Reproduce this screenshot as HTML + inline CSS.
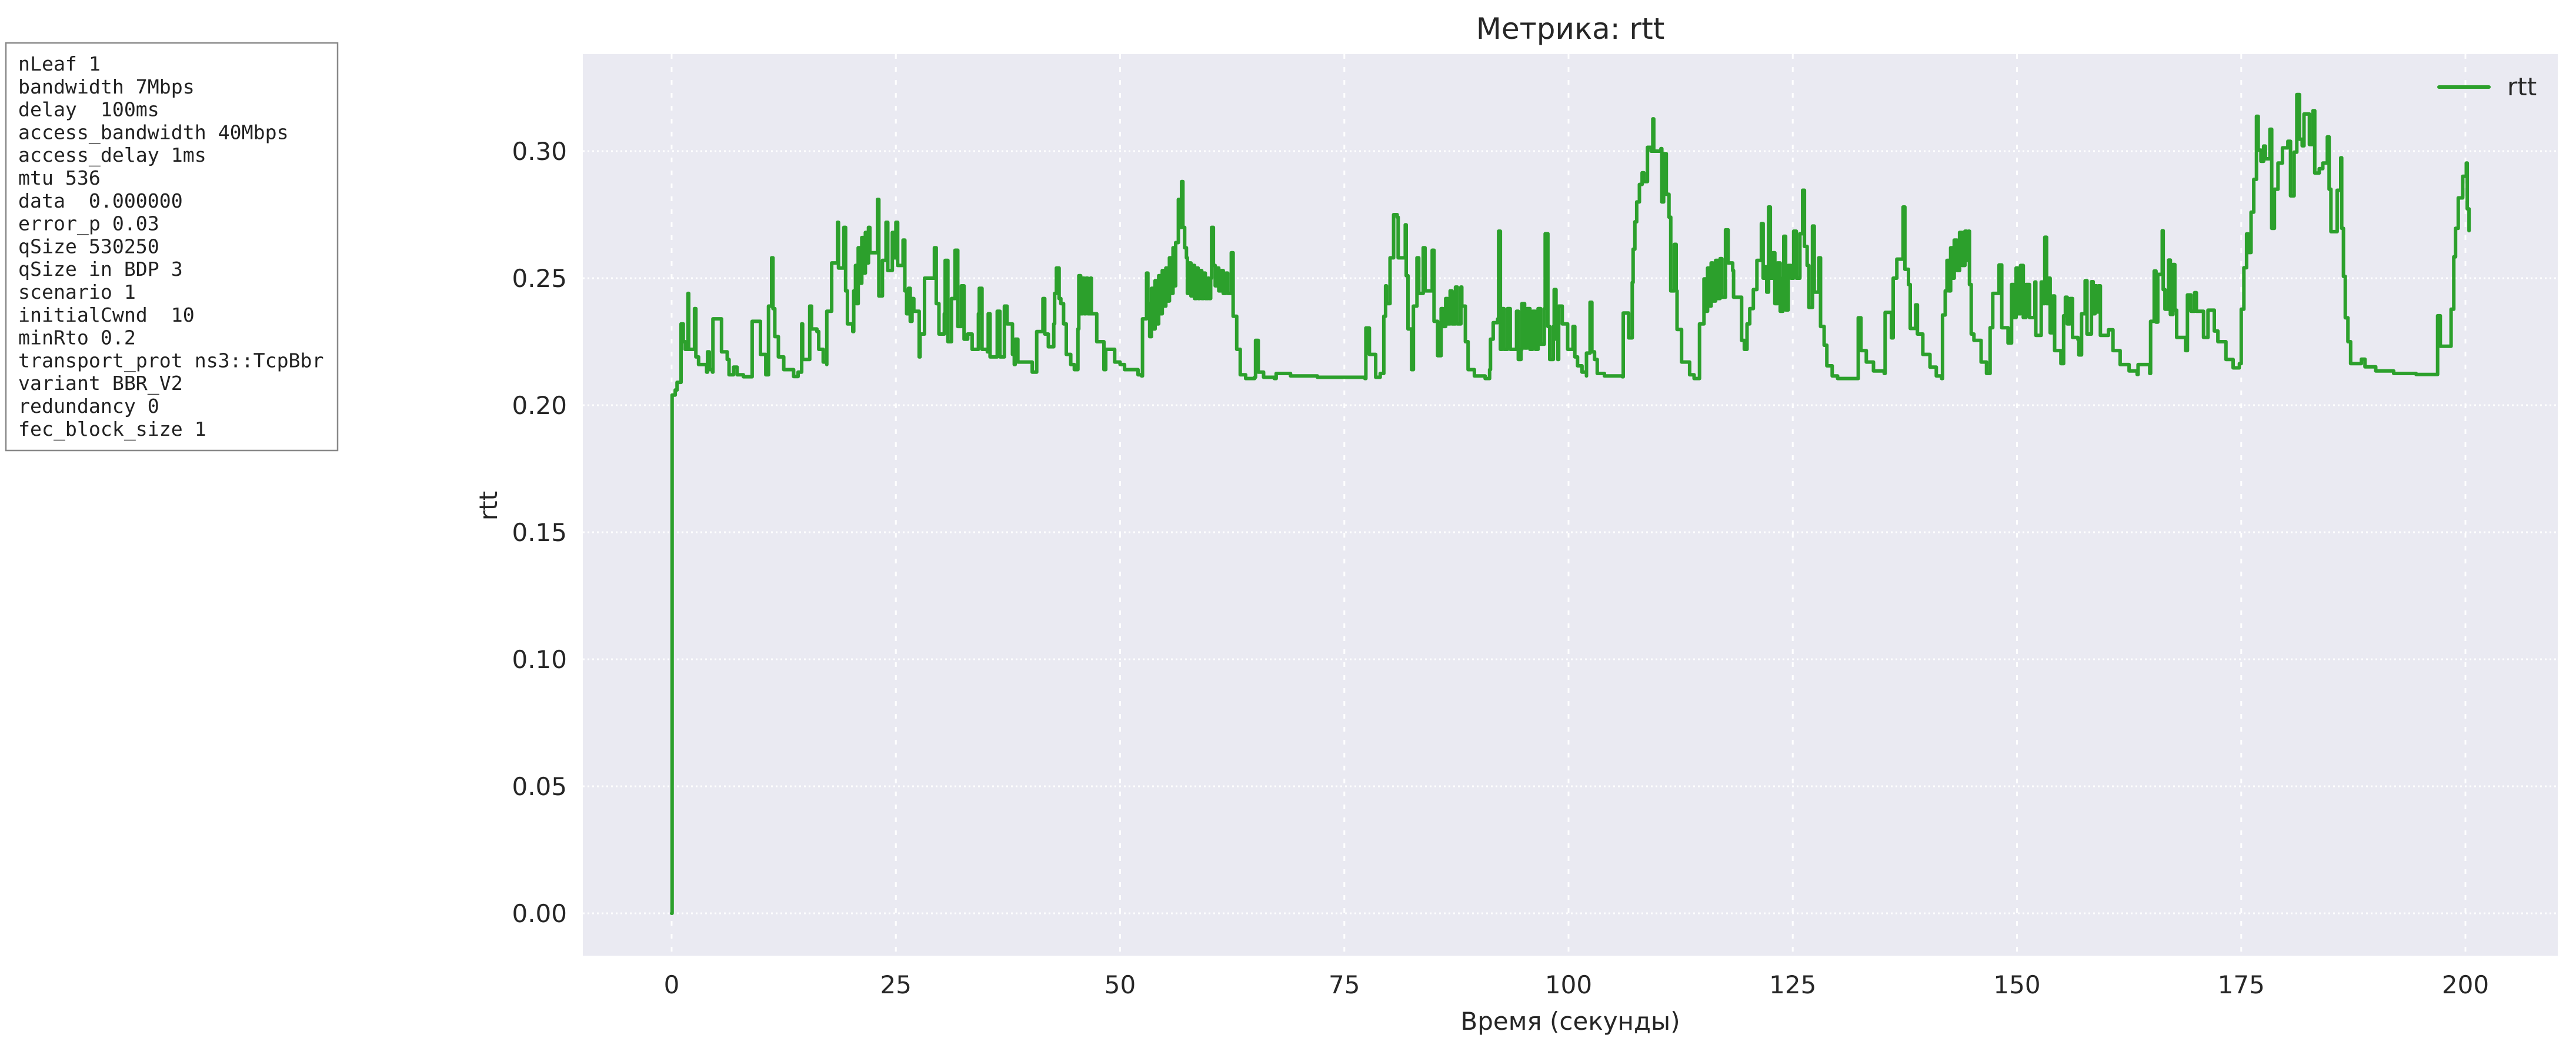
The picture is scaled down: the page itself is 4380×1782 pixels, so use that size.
<!DOCTYPE html>
<html><head><meta charset="utf-8"><style>
html,body{margin:0;padding:0;background:#fff;}
svg{display:block;}
text{font-family:"DejaVu Sans","Liberation Sans",sans-serif;fill:#262626;}
.mono{font-family:"DejaVu Sans Mono","Liberation Mono",monospace;font-size:33.2px;fill:#222;}
</style></head><body>
<svg id="chart" width="4380" height="1782" viewBox="0 0 4380 1782">
  <rect x="0" y="0" width="4380" height="1782" fill="#fff"/>
  <g>
    <rect x="10" y="73" width="564" height="693" fill="#fff" stroke="#888" stroke-width="2.5"/>
    <text class="mono" x="31" y="120">
      <tspan x="31" dy="0">nLeaf 1</tspan>
      <tspan x="31" dy="38.8">bandwidth 7Mbps</tspan>
      <tspan x="31" dy="38.8" xml:space="preserve">delay  100ms</tspan>
      <tspan x="31" dy="38.8">access_bandwidth 40Mbps</tspan>
      <tspan x="31" dy="38.8">access_delay 1ms</tspan>
      <tspan x="31" dy="38.8">mtu 536</tspan>
      <tspan x="31" dy="38.8" xml:space="preserve">data  0.000000</tspan>
      <tspan x="31" dy="38.8">error_p 0.03</tspan>
      <tspan x="31" dy="38.8">qSize 530250</tspan>
      <tspan x="31" dy="38.8">qSize in BDP 3</tspan>
      <tspan x="31" dy="38.8">scenario 1</tspan>
      <tspan x="31" dy="38.8" xml:space="preserve">initialCwnd  10</tspan>
      <tspan x="31" dy="38.8">minRto 0.2</tspan>
      <tspan x="31" dy="38.8">transport_prot ns3::TcpBbr</tspan>
      <tspan x="31" dy="38.8">variant BBR_V2</tspan>
      <tspan x="31" dy="38.8">redundancy 0</tspan>
      <tspan x="31" dy="38.8">fec_block_size 1</tspan>
    </text>
  </g>
  <rect x="991" y="92" width="3358" height="1533" fill="#eaeaf2"/>
  <g id="grid"></g>
  <g id="ticks"></g>
  <g id="series"></g>
  <text x="2670" y="66" font-size="50" text-anchor="middle">Метрика: rtt</text>
  <text x="2670" y="1751" font-size="42" text-anchor="middle">Время (секунды)</text>
  <text x="0" y="0" font-size="42" text-anchor="middle" transform="translate(845,860) rotate(-90)">rtt</text>
  <g>
    <line x1="4147" y1="148" x2="4232" y2="148" stroke="#2ca02c" stroke-width="6" stroke-linecap="round"/>
    <text x="4263" y="162" font-size="42">rtt</text>
  </g>
</svg>
<script>
const xTicks = [0,25,50,75,100,125,150,175,200];
const yTicks = [0.00,0.05,0.10,0.15,0.20,0.25,0.30];
const yTickLabels = ["0.00","0.05","0.10","0.15","0.20","0.25","0.30"];
const times = [0,0.05,0.4,0.6,1.05,1.05,1.3,1.5,1.8,1.82,1.9,2.4,2.55,2.7,3.0,3.5,3.9,4.0,4.2,4.56,4.6,5.4,5.56,6.2,6.4,6.8,6.9,7.3,8,8.95,8.98,9.8,9.9,10.5,10.8,10.8,11.1,11.15,11.3,11.5,11.9,12.5,13.6,14.1,14.1,14.4,14.5,14.6,15.3,15.4,15.6,16.2,16.4,16.9,17.3,17.3,17.8,17.84,18.4,18.5,18.6,19.1,19.2,19.4,19.6,20.2,20.3,20.5,20.6,20.8,21.0,21.2,21.4,21.6,21.8,21.95,22.1,22.9,22.95,23.1,23.3,23.5,23.9,24.1,24.5,24.6,24.8,25.0,25.2,25.7,25.8,26.0,26.2,26.4,26.6,26.8,27.0,27.4,27.6,27.7,28.2,28.2,29.2,29.3,29.5,29.8,30.4,30.5,30.8,31.2,31.6,31.9,32.3,32.6,33.0,33.5,34.2,34.3,34.6,35.2,35.3,35.5,36.2,36.3,36.6,37.0,37.1,37.4,38.0,38.2,38.3,38.6,39.2,40.2,40.6,40.7,41.3,41.4,41.6,42.0,42.6,42.7,42.9,43.2,43.4,43.7,44.0,44.5,44.9,45.3,45.4,45.6,45.8,46.0,46.2,46.4,46.7,46.8,47.3,47.4,48.0,48.2,48.4,49.0,49.4,50.0,50.5,51.4,52.0,52.4,52.5,52.9,52.95,53.1,53.3,53.5,53.7,53.9,54.1,54.3,54.5,54.7,54.9,55.1,55.3,55.5,55.7,55.9,56.1,56.2,56.4,56.5,56.7,56.85,57.0,57.2,57.4,57.5,57.7,57.9,58.1,58.3,58.5,58.7,58.9,59.1,59.3,59.5,59.8,59.9,60.1,60.2,60.4,60.6,60.8,61.0,61.3,61.5,61.8,62.0,62.3,62.4,62.6,63.0,63.4,64.0,65.0,65.1,65.4,66,67.2,67.4,68.5,69,72,77.3,77.4,77.8,78.5,79.0,79.3,79.4,79.6,79.7,80.0,80.1,80.4,80.5,80.9,81.0,81.7,81.8,81.9,82.1,82.5,82.7,83.0,83.1,83.3,83.7,83.8,84.0,84.6,84.8,85.0,85.4,85.7,85.8,86.0,86.3,86.5,86.8,87.0,87.4,87.6,88.0,88.1,88.4,88.5,88.8,89.5,90.7,91.2,91.3,91.6,92.1,92.2,92.4,92.6,92.8,93.2,93.5,94.1,94.2,94.4,94.7,94.8,95.1,95.4,95.7,96.0,96.3,96.6,96.9,97.3,97.4,97.7,97.9,98.3,98.4,98.6,98.8,98.9,99.3,99.8,99.9,100.4,100.5,100.7,101.0,101.5,102.0,102.0,102.3,102.4,102.6,102.9,103.2,104,106.0,106.1,106.6,106.7,107.0,107.1,107.2,107.4,107.6,107.9,108.2,108.4,108.8,109.2,109.4,109.5,110.0,110.3,110.4,110.6,110.9,111.2,111.4,111.7,111.8,112.0,112.1,112.6,113.5,114.0,114.6,114.6,115.0,115.1,115.3,115.5,115.7,115.9,116.1,116.4,116.6,116.9,117.1,117.4,117.5,117.8,118.3,118.4,118.9,119.3,119.6,119.9,120.2,120.6,121.0,121.4,121.5,121.7,121.9,122.1,122.3,122.5,122.8,123.0,123.3,123.6,123.9,124.0,124.2,124.5,124.8,125.1,125.4,125.7,125.8,126.0,126.1,126.3,126.6,126.8,127.1,127.2,127.4,127.8,127.9,128.1,128.5,128.8,129.4,130,132.2,132.3,132.6,133.2,134,135.2,135.3,135.8,136.0,136.1,136.2,136.6,137.2,137.3,137.5,137.8,137.9,138.1,138.6,138.7,138.9,139.5,140.3,141.0,141.6,141.7,142.0,142.2,142.4,142.6,142.8,143.0,143.3,143.6,143.9,144.2,144.4,144.6,144.7,144.9,145.2,146,146.6,146.9,147.0,147.3,147.9,148.0,148.3,148.8,149.0,149.2,149.4,149.6,149.9,150.1,150.4,150.7,151.0,151.4,151.9,152.0,152.1,152.6,152.7,152.9,153.1,153.3,153.5,153.7,154.0,154.2,154.7,154.9,155.2,155.4,155.6,155.9,156.2,156.8,156.9,157.2,157.6,157.8,158.1,158.3,158.5,158.7,158.9,159.1,159.3,159.9,160.2,160.7,161.5,162.5,163.4,163.5,164.2,164.8,164.9,165.3,165.5,165.7,166.2,166.2,166.3,166.5,166.8,166.9,167.1,167.4,167.4,167.6,167.8,168.7,168.8,169.0,169.4,169.8,170.0,170.6,170.8,171.3,171.3,171.8,172.0,172.4,173.3,174.1,174.8,175.0,175.3,175.6,175.8,176.1,176.4,176.7,176.9,177.2,177.5,177.7,178.2,178.2,178.4,178.7,179.1,179.6,180.2,180.5,180.9,181.2,181.5,181.8,182.0,182.5,182.6,183.0,183.2,183.7,184.1,184.6,184.8,185.0,185.6,185.7,186.0,186.1,186.2,186.4,186.6,186.9,187.2,188.4,188.8,190,192,194.5,196.9,196.9,197.2,198.2,198.4,198.7,198.9,199.2,199.7,200.1,200.2,200.4];
const rttValues = [0,0.204,0.206,0.209,0.209,0.232,0.225,0.222,0.222,0.244,0.222,0.222,0.238,0.219,0.216,0.216,0.213,0.221,0.214,0.213,0.234,0.234,0.221,0.218,0.212,0.212,0.215,0.212,0.2112,0.2112,0.233,0.233,0.22,0.212,0.212,0.239,0.239,0.258,0.238,0.227,0.219,0.214,0.2113,0.2113,0.213,0.213,0.232,0.218,0.218,0.239,0.23,0.229,0.222,0.217,0.216,0.237,0.237,0.256,0.256,0.272,0.254,0.254,0.270,0.245,0.232,0.229,0.245,0.255,0.240,0.262,0.248,0.266,0.252,0.268,0.256,0.270,0.260,0.260,0.281,0.243,0.243,0.257,0.272,0.253,0.253,0.268,0.258,0.272,0.255,0.255,0.265,0.245,0.236,0.246,0.233,0.242,0.237,0.237,0.219,0.228,0.228,0.250,0.25,0.262,0.240,0.228,0.236,0.257,0.225,0.242,0.261,0.231,0.247,0.226,0.228,0.222,0.236,0.246,0.222,0.221,0.236,0.219,0.219,0.237,0.219,0.219,0.239,0.232,0.220,0.216,0.226,0.217,0.217,0.213,0.213,0.229,0.229,0.242,0.228,0.223,0.232,0.244,0.254,0.242,0.24,0.232,0.22,0.216,0.214,0.230,0.251,0.236,0.250,0.236,0.250,0.236,0.250,0.236,0.236,0.225,0.225,0.214,0.222,0.222,0.217,0.216,0.214,0.214,0.212,0.2115,0.234,0.234,0.252,0.240,0.227,0.246,0.230,0.249,0.232,0.251,0.236,0.253,0.239,0.254,0.241,0.258,0.244,0.262,0.247,0.264,0.264,0.281,0.270,0.288,0.270,0.262,0.258,0.244,0.256,0.243,0.255,0.242,0.254,0.242,0.253,0.242,0.252,0.242,0.250,0.242,0.250,0.270,0.255,0.247,0.254,0.245,0.253,0.244,0.252,0.244,0.244,0.260,0.235,0.222,0.212,0.2105,0.211,0.2255,0.213,0.211,0.2105,0.2125,0.2125,0.2115,0.211,0.2105,0.2304,0.22,0.211,0.2125,0.2125,0.235,0.247,0.240,0.240,0.258,0.258,0.275,0.274,0.258,0.258,0.271,0.251,0.230,0.214,0.239,0.239,0.258,0.244,0.244,0.262,0.245,0.245,0.261,0.233,0.2195,0.2195,0.238,0.231,0.242,0.232,0.245,0.232,0.2465,0.232,0.2465,0.239,0.239,0.225,0.214,0.2115,0.2105,0.214,0.226,0.2325,0.234,0.2685,0.222,0.238,0.222,0.238,0.222,0.222,0.237,0.218,0.222,0.240,0.2225,0.238,0.222,0.237,0.222,0.238,0.224,0.238,0.2675,0.231,0.218,0.231,0.2455,0.226,0.218,0.239,0.232,0.232,0.222,0.222,0.231,0.219,0.2155,0.213,0.2115,0.2205,0.2205,0.2405,0.221,0.218,0.2125,0.2115,0.2112,0.2363,0.2363,0.2265,0.2265,0.2483,0.2614,0.2722,0.280,0.2869,0.2915,0.2880,0.3015,0.300,0.3127,0.300,0.300,0.301,0.28,0.299,0.283,0.274,0.245,0.245,0.2633,0.245,0.2298,0.217,0.212,0.2105,0.2105,0.232,0.232,0.2497,0.237,0.254,0.239,0.256,0.241,0.257,0.242,0.2577,0.2425,0.2425,0.269,0.256,0.253,0.2425,0.2425,0.2255,0.222,0.232,0.238,0.2455,0.257,0.257,0.2715,0.25,0.2545,0.2445,0.278,0.25,0.26,0.24,0.256,0.237,0.25,0.2665,0.2375,0.255,0.25,0.2685,0.25,0.25,0.2675,0.2675,0.2846,0.2625,0.255,0.2385,0.2385,0.2705,0.2445,0.2445,0.258,0.231,0.2236,0.2155,0.2115,0.2105,0.2105,0.2344,0.2215,0.217,0.2135,0.2125,0.2365,0.2365,0.2265,0.2265,0.25,0.2575,0.2575,0.278,0.2535,0.2535,0.2475,0.2302,0.2302,0.2395,0.228,0.22,0.215,0.2115,0.2105,0.2355,0.245,0.257,0.245,0.262,0.250,0.265,0.253,0.268,0.255,0.2685,0.257,0.2685,0.2475,0.228,0.2255,0.217,0.2125,0.2125,0.2305,0.244,0.244,0.2552,0.2305,0.2305,0.2245,0.2245,0.2475,0.2345,0.254,0.236,0.255,0.2345,0.2475,0.2345,0.2345,0.2485,0.2275,0.2275,0.2485,0.24,0.2661,0.24,0.25,0.2285,0.243,0.2215,0.2215,0.2164,0.2352,0.2425,0.232,0.242,0.2267,0.2258,0.2198,0.236,0.249,0.228,0.228,0.2486,0.236,0.247,0.2367,0.247,0.2275,0.2275,0.2297,0.2215,0.216,0.2135,0.2121,0.216,0.216,0.2125,0.233,0.2528,0.2327,0.2515,0.2515,0.2687,0.2455,0.2378,0.2378,0.2571,0.2357,0.2357,0.2554,0.2374,0.2267,0.2267,0.2215,0.2434,0.237,0.2443,0.237,0.237,0.2267,0.2267,0.2374,0.2374,0.2292,0.225,0.218,0.2147,0.2164,0.2378,0.2541,0.2674,0.2601,0.276,0.2889,0.3137,0.3004,0.2960,0.3020,0.297,0.297,0.3086,0.2696,0.285,0.2953,0.3013,0.3039,0.2824,0.2996,0.3223,0.3047,0.3021,0.3146,0.3146,0.3026,0.3159,0.2914,0.2931,0.2953,0.3056,0.285,0.2683,0.2683,0.2846,0.2846,0.2974,0.2696,0.2507,0.2344,0.225,0.2164,0.2181,0.2151,0.2135,0.2125,0.2121,0.2121,0.2352,0.2232,0.2232,0.2378,0.2584,0.2696,0.2816,0.2901,0.2953,0.2773,0.2687];

const NS = "http://www.w3.org/2000/svg";
const X0 = 1142, X1 = 4192, Y0 = 1553, Y1 = 257;
function xScale(t){ return X0 + t * (X1 - X0) / 200; }
function yScale(v){ return Y0 - v * (Y0 - Y1) / 0.30; }

const grid = document.getElementById('grid');
const ticks = document.getElementById('ticks');
xTicks.forEach(function(t){
  const x = xScale(t);
  const gl = document.createElementNS(NS,'line');
  gl.setAttribute('x1',x); gl.setAttribute('x2',x); gl.setAttribute('y1',92); gl.setAttribute('y2',1625);
  gl.setAttribute('stroke','#ffffff'); gl.setAttribute('stroke-width','3'); gl.setAttribute('stroke-dasharray','8 14');
  
  
  grid.appendChild(gl);
  const tx = document.createElementNS(NS,'text');
  tx.setAttribute('x',x); tx.setAttribute('y',1689); tx.setAttribute('font-size','42'); tx.setAttribute('text-anchor','middle');
  tx.textContent = String(t);
  
  
  ticks.appendChild(tx);
});
yTicks.forEach(function(v,i){
  const y = yScale(v);
  const gl = document.createElementNS(NS,'line');
  gl.setAttribute('x1',991); gl.setAttribute('x2',4349); gl.setAttribute('y1',y); gl.setAttribute('y2',y);
  gl.setAttribute('stroke','#ffffff'); gl.setAttribute('stroke-width','3'); gl.setAttribute('stroke-dasharray','3 5');
  
  
  grid.appendChild(gl);
  const tx = document.createElementNS(NS,'text');
  tx.setAttribute('x',964); tx.setAttribute('y',y+15); tx.setAttribute('font-size','42'); tx.setAttribute('text-anchor','end');
  tx.textContent = yTickLabels[i];
  
  
  ticks.appendChild(tx);
});
// step-post drawing: horizontal to next time, then vertical to next value
let d = 'M' + xScale(times[0]).toFixed(1) + ' ' + yScale(rttValues[0]).toFixed(1);
for (let i = 1; i < times.length; i++) {
  d += 'H' + xScale(times[i]).toFixed(1) + 'V' + yScale(rttValues[i]).toFixed(1);
}
const path = document.createElementNS(NS,'path');
path.setAttribute('d', d);
path.setAttribute('fill','none'); path.setAttribute('stroke','#2ca02c'); path.setAttribute('stroke-width','6');
path.setAttribute('stroke-linejoin','round'); path.setAttribute('stroke-linecap','round');


document.getElementById('series').appendChild(path);
</script>
</body></html>
